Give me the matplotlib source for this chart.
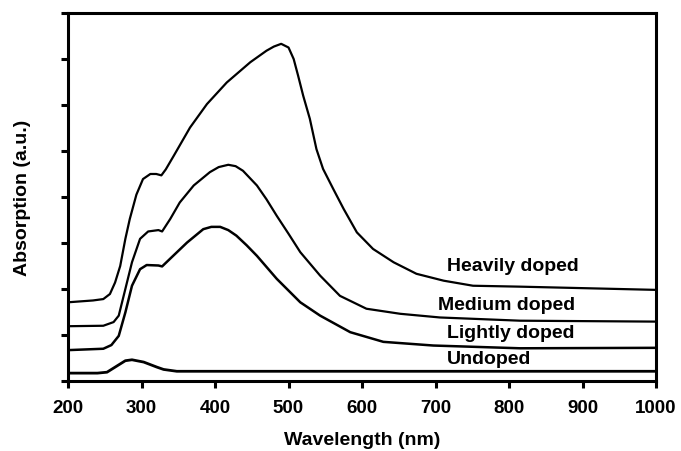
import matplotlib
matplotlib.use("Agg")
import matplotlib.pyplot as plt

plt.rcParams['font.family'] = ['Liberation Sans', 'DejaVu Sans']
plt.rcParams['font.weight'] = 'bold'

# absorption spectra (arbitrary units)
wl_heavy = [200, 234, 248, 257, 264, 271, 278, 284, 293, 302, 312, 320, 327, 333, 344,
            366, 389, 416, 448, 470, 480, 490, 500, 507, 513, 520, 529, 538, 547,
            561, 575, 593, 615, 643, 674, 711, 751, 815, 1000]
heavy = [1.71, 1.75, 1.78, 1.89, 2.14, 2.5, 3.09, 3.52, 4.05, 4.39, 4.5, 4.5, 4.47, 4.6, 4.9,
         5.51, 6.02, 6.49, 6.93, 7.18, 7.27, 7.33, 7.25, 7.0, 6.64, 6.2, 5.7, 5.04, 4.61,
         4.17, 3.74, 3.23, 2.87, 2.58, 2.33, 2.18, 2.07, 2.05, 1.98]

wl_medium = [200, 248, 262, 269, 278, 287, 298, 309, 323, 328, 339, 352, 371, 393, 405,
             418, 428, 438, 457, 470, 484, 500, 516, 543, 570, 606, 652, 706, 815, 1000]
medium = [1.19, 1.2, 1.28, 1.42, 2.0, 2.58, 3.09, 3.25, 3.28, 3.25, 3.52, 3.88, 4.25, 4.54, 4.65,
          4.70, 4.67, 4.57, 4.25, 3.95, 3.59, 3.2, 2.8, 2.29, 1.85, 1.57, 1.46, 1.38, 1.31, 1.29]

wl_light = [200, 248, 259, 269, 278, 287, 298, 307, 323, 328, 343, 362, 384, 395, 407,
            418, 429, 443, 457, 484, 516, 543, 584, 629, 697, 815, 1000]
light = [0.67, 0.7, 0.78, 0.98, 1.49, 2.07, 2.43, 2.52, 2.51, 2.49, 2.72, 3.01, 3.30, 3.35, 3.35,
         3.28, 3.16, 2.95, 2.72, 2.22, 1.71, 1.42, 1.06, 0.85, 0.77, 0.71, 0.72]

wl_undoped = [200, 240, 253, 264, 278, 287, 303, 321, 330, 348, 1000]
undoped = [0.17, 0.17, 0.19, 0.3, 0.44, 0.46, 0.41, 0.3, 0.25, 0.21, 0.21]

labels = ["Heavily doped", "Medium doped", "Lightly doped", "Undoped"]
label_x = [715, 703, 715, 715]
label_y = [2.5, 1.66, 1.05, 0.48]

fig = plt.figure(figsize=(6.81, 4.52), dpi=100)
ax = fig.add_axes([0.0999, 0.155, 0.8634, 0.814])

ax.plot(wl_heavy, heavy, color="black", lw=1.6)
ax.plot(wl_medium, medium, color="black", lw=1.6)
ax.plot(wl_light, light, color="black", lw=1.8)
ax.plot(wl_undoped, undoped, color="black", lw=2.0)

for t, x, y in zip(labels, label_x, label_y):
    ax.text(x, y, t, fontsize=14, fontweight="bold", ha="left", va="center")

ax.set_xlim(200, 1000)
ax.set_ylim(0, 8)
ax.set_xticks(range(200, 1001, 100))
ax.set_yticks(range(0, 9))
ax.set_yticklabels([])

for s in ax.spines.values():
    s.set_linewidth(2.2)
ax.tick_params(axis="both", direction="out", width=2.2, length=5, labelsize=13.5, pad=8)

ax.set_xlabel("Wavelength (nm)", fontsize=14, fontweight="bold")
ax.set_ylabel("Absorption (a.u.)", fontsize=14, fontweight="bold")
ax.xaxis.set_label_coords(0.5, -0.135)
ax.yaxis.set_label_coords(-0.063, 0.5)

fig.savefig("out.png", dpi=100)
